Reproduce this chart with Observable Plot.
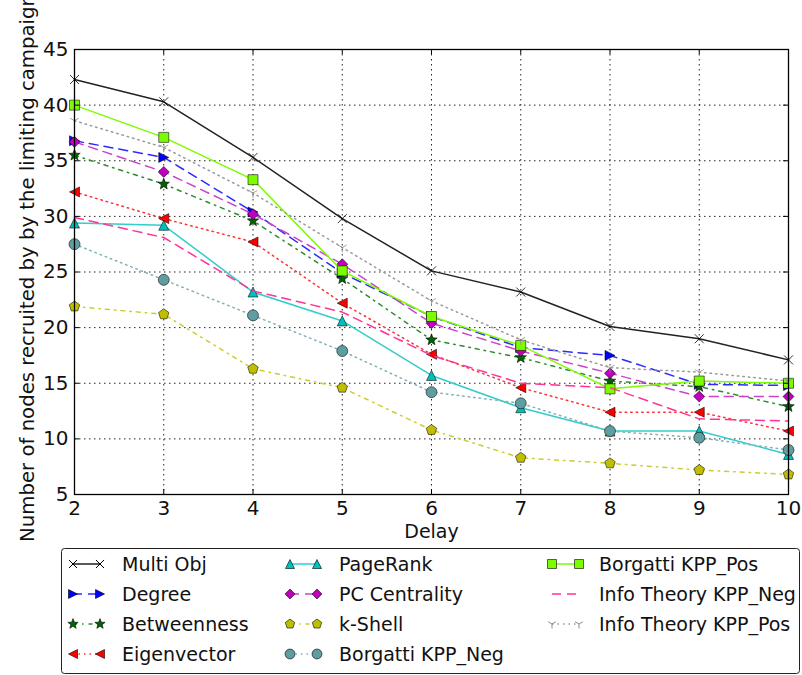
<!DOCTYPE html>
<html><head><meta charset="utf-8">
<script src="https://cdn.jsdelivr.net/npm/d3@7"></script>
<script src="https://cdn.jsdelivr.net/npm/@observablehq/plot@0.6"></script>
<style>
body{margin:0;background:#fff;font-family:"DejaVu Sans",sans-serif;}
#chart svg{display:block;}
</style>
</head><body><div id="chart"></div><script>
// ---- data ----
const delays = [2, 3, 4, 5, 6, 7, 8, 9, 10];
const multiObj     = [42.3, 40.3, 35.3, 29.8, 25.1, 23.2, 20.1, 19.0, 17.1];
const degree       = [36.8, 35.3, 30.4, 24.9, 21.0, 18.2, 17.5, 14.9, 14.8];
const betweenness  = [35.5, 32.9, 29.6, 24.4, 18.9, 17.3, 15.2, 14.7, 12.9];
const eigenvector  = [32.2, 29.8, 27.7, 22.2, 17.6, 14.6, 12.4, 12.4, 10.7];
const pageRank     = [29.4, 29.2, 23.2, 20.6, 15.7, 12.8, 10.7, 10.7, 8.6];
const pcCentrality = [36.7, 34.0, 30.2, 25.7, 20.4, 17.9, 15.9, 13.8, 13.8];
const kShell       = [21.9, 21.2, 16.3, 14.6, 10.8, 8.3, 7.8, 7.2, 6.8];
const borgattiNeg  = [27.5, 24.3, 21.1, 17.9, 14.2, 13.2, 10.7, 10.1, 9.0];
const borgattiPos  = [40.0, 37.1, 33.3, 25.1, 21.0, 18.4, 14.5, 15.2, 15.0];
const infoNeg      = [29.9, 28.1, 23.3, 21.4, 17.5, 15.0, 14.6, 11.8, 11.6];
const infoPos      = [38.6, 36.2, 32.1, 27.2, 22.4, 18.9, 16.4, 16.0, 15.2];

const seriesNames = ["Multi Obj", "Degree", "Betweenness", "Eigenvector", "PageRank",
  "PC Centrality", "k-Shell", "Borgatti KPP_Neg", "Borgatti KPP_Pos",
  "Info Theory KPP_Neg", "Info Theory KPP_Pos"];
const seriesValues = [multiObj, degree, betweenness, eigenvector, pageRank,
  pcCentrality, kShell, borgattiNeg, borgattiPos, infoNeg, infoPos];

const xTicks = [2, 3, 4, 5, 6, 7, 8, 9, 10];
const yTicks = [5, 10, 15, 20, 25, 30, 35, 40, 45];
const xLabel = "Delay";
const yLabel = "Number of nodes recruited by by the limiting campaign";

// ---- styles ----
const seriesColors = ["#000000", "#0000ff", "#006400", "#ff0000", "#00bfbf",
  "#bf00bf", "#bfbf00", "#5f9ea0", "#7cfc00", "#ff1493", "#8c8c8c"];
const lineColors = ["#222222", "#2b2bff", "#2e8b2e", "#ff3333", "#33cccc",
  "#cc44cc", "#cccc33", "#7fb2b4", "#7cfc00", "#ff3399", "#999999"];
const DASH = "9,6", DOT = "1.5,4", DASHDOT = "4,5,1.5,5";
const seriesDash = [null, DASH, DASHDOT, DOT, null, DASH, DASHDOT, DOT, null, DASH, DOT];
const seriesMarkers = ["x", ">", "*", "<", "^", "D", "p", "o", "s", null, "1"];
const markerR = {x: 4.5, ">": 5, "<": 5, "^": 5, "*": 6, D: 5.5, p: 5.5, o: 5.5, s: 5, "1": 5};

function sym(kind) {
  return {draw(ctx, size) {
    const r = Math.sqrt(size / Math.PI);
    switch (kind) {
      case "x":
        ctx.moveTo(-r, -r); ctx.lineTo(r, r); ctx.moveTo(-r, r); ctx.lineTo(r, -r); break;
      case "1":
        ctx.moveTo(0, 0); ctx.lineTo(0, r);
        ctx.moveTo(0, 0); ctx.lineTo(-r * 0.866, -r * 0.5);
        ctx.moveTo(0, 0); ctx.lineTo(r * 0.866, -r * 0.5); break;
      case ">":
        ctx.moveTo(r, 0); ctx.lineTo(-r, -r); ctx.lineTo(-r, r); ctx.closePath(); break;
      case "<":
        ctx.moveTo(-r, 0); ctx.lineTo(r, -r); ctx.lineTo(r, r); ctx.closePath(); break;
      case "^":
        ctx.moveTo(0, -r); ctx.lineTo(r, r); ctx.lineTo(-r, r); ctx.closePath(); break;
      case "D":
        ctx.moveTo(0, -r); ctx.lineTo(r, 0); ctx.lineTo(0, r); ctx.lineTo(-r, 0); ctx.closePath(); break;
      case "s":
        ctx.rect(-r, -r, 2 * r, 2 * r); break;
      case "o":
        ctx.moveTo(r, 0); ctx.arc(0, 0, r, 0, 2 * Math.PI); break;
      case "p":
        for (let i = 0; i < 5; i++) {
          const a = (-90 + 72 * i) * Math.PI / 180;
          i ? ctx.lineTo(r * Math.cos(a), r * Math.sin(a)) : ctx.moveTo(r * Math.cos(a), r * Math.sin(a));
        }
        ctx.closePath(); break;
      case "*":
        for (let i = 0; i < 10; i++) {
          const a = (-90 + 36 * i) * Math.PI / 180, rr = i % 2 ? r * 0.42 : r;
          i ? ctx.lineTo(rr * Math.cos(a), rr * Math.sin(a)) : ctx.moveTo(rr * Math.cos(a), rr * Math.sin(a));
        }
        ctx.closePath(); break;
    }
  }};
}
const strokeOnly = k => k === "x" || k === "1";

// ---- layout ----
const W = 802, H = 548, mt = 49, mb = 54, ml = 74, mr = 14;
const plotH = H - mt - mb, plotW = W - ml - mr;

const marks = [
  Plot.gridX(xTicks, {stroke: "#000", strokeOpacity: 0.85, strokeDasharray: "1.5,3.5"}),
  Plot.gridY(yTicks, {stroke: "#000", strokeOpacity: 0.85, strokeDasharray: "1.5,3.5"})
];
seriesValues.forEach((vals, s) => {
  const rows = delays.map((d, i) => ({x: d, y: vals[i]}));
  marks.push(Plot.line(rows, {x: "x", y: "y", stroke: lineColors[s], strokeWidth: 1.5,
    strokeDasharray: seriesDash[s] || undefined}));
  const k = seriesMarkers[s];
  if (k) {
    marks.push(Plot.dot(rows, {x: "x", y: "y", symbol: sym(k), r: markerR[k],
      fill: strokeOnly(k) ? "none" : seriesColors[s],
      stroke: strokeOnly(k) ? seriesColors[s] : "#000",
      strokeWidth: strokeOnly(k) ? 1 : 0.6, strokeOpacity: strokeOnly(k) ? 0.8 : 0.9}));
  }
});
marks.push(
  Plot.tickX(xTicks, {x: d => d, insetTop: plotH - 5, stroke: "#000"}),
  Plot.tickX(xTicks, {x: d => d, insetBottom: plotH - 5, stroke: "#000"}),
  Plot.tickY(yTicks, {y: d => d, insetRight: plotW - 5, stroke: "#000"}),
  Plot.tickY(yTicks, {y: d => d, insetLeft: plotW - 5, stroke: "#000"}),
  Plot.frame({stroke: "#000", strokeWidth: 1.3}),
  Plot.axisX(xTicks, {tickSize: 0, tickPadding: 6, fontSize: 20, label: null, fill: "#111"}),
  Plot.axisY(yTicks, {tickSize: 0, tickPadding: 6, fontSize: 20, label: null, fill: "#111"}),
  Plot.text([xLabel], {text: d => d, frameAnchor: "bottom", lineAnchor: "middle", dy: 37, fontSize: 19, fill: "#111"}),
  Plot.text([yLabel], {text: d => d, frameAnchor: "left", textAnchor: "middle", lineAnchor: "middle",
    rotate: -90, dx: -47, dy: -4, fontSize: 19.7, fill: "#111"})
);

const chart = Plot.plot({
  width: W, height: H,
  marginTop: mt, marginBottom: mb, marginLeft: ml, marginRight: mr,
  style: {fontFamily: "DejaVu Sans", fontSize: "19px", background: "#fff", overflow: "visible"},
  x: {domain: [2, 10], label: null},
  y: {domain: [5, 45], label: null},
  marks
});
document.getElementById("chart").appendChild(chart);

// ---- legend (below the plot) ----
const colX0 = [73, 290, 552], colX1 = [100, 317, 579], textX = [122, 339, 599];
const LH = 127;
const leg = d3.select("#chart").append("svg").attr("width", W).attr("height", LH)
  .style("display", "block").style("font-family", "DejaVu Sans");
leg.append("rect").attr("x", 61.5).attr("y", 0.5).attr("width", 738).attr("height", 125)
  .attr("rx", 3).attr("fill", "#fff").attr("stroke", "#222").attr("stroke-width", 1);
seriesNames.forEach((name, s) => {
  const c = Math.floor(s / 4), r = s % 4, cy = 16 + 30 * r;
  const g = leg.append("g");
  g.append("line").attr("x1", colX0[c]).attr("x2", colX1[c]).attr("y1", cy).attr("y2", cy)
    .attr("stroke", lineColors[s]).attr("stroke-width", 1.5)
    .attr("stroke-dasharray", seriesDash[s] || null);
  const k = seriesMarkers[s];
  if (k) {
    const p = d3.path();
    const rr = markerR[k] * 0.9;
    sym(k).draw(p, Math.PI * rr * rr);
    for (const x of [colX0[c], colX1[c]]) {
      g.append("path").attr("d", p.toString()).attr("transform", `translate(${x},${cy})`)
        .attr("fill", strokeOnly(k) ? "none" : seriesColors[s])
        .attr("stroke", strokeOnly(k) ? seriesColors[s] : "#000")
        .attr("stroke-width", strokeOnly(k) ? 1 : 0.6);
    }
  }
  g.append("text").attr("x", textX[c]).attr("y", cy).attr("dy", "0.36em")
    .attr("font-size", 19).attr("fill", "#111").text(name);
});
</script></body></html>
